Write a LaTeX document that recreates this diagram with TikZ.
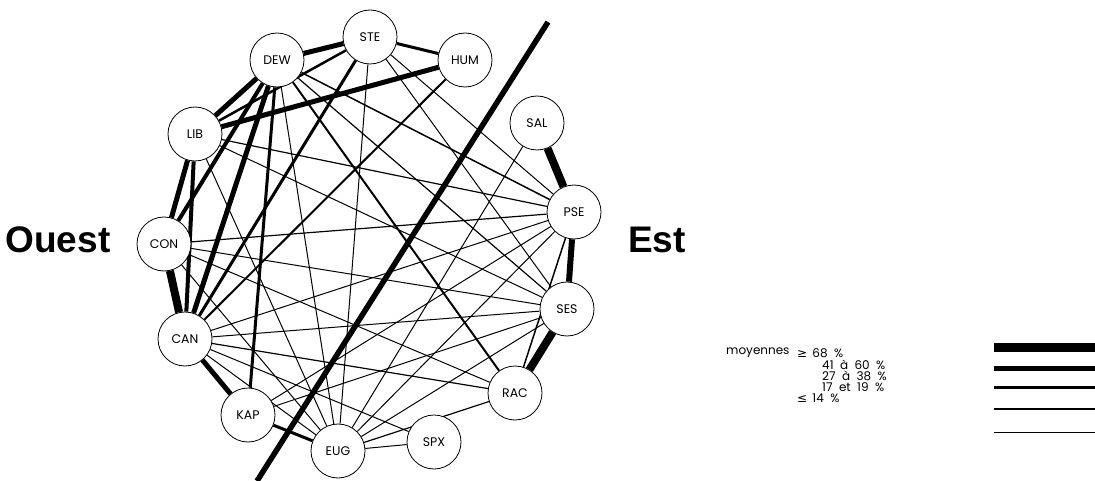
\documentclass[tikz,border=0pt]{standalone}
\usepackage{fontspec}
\setmainfont{Poppins}
\newfontfamily\boldsans{Liberation Sans}
\newfontfamily\symfont{DejaVu Sans}
\usetikzlibrary{backgrounds}
\tikzset{
  vnode/.style={circle,draw,line width=0.8pt,fill=white,minimum size=54pt,inner sep=0pt,font=\fontsize{12.5}{12.5}\selectfont},
  big/.style={font=\boldsans\bfseries\fontsize{37}{37}\selectfont},
  legtext/.style={anchor=west,inner sep=0pt,font=\fontsize{12}{11}\selectfont},
  wA/.style={line width=8pt},
  wB/.style={line width=5pt},
  wC/.style={line width=3pt},
  wD/.style={line width=2pt},
  wE/.style={line width=1pt},
}
\begin{document}
\begin{tikzpicture}[x=1pt,y=-1pt]
\useasboundingbox (0,0) rectangle (1095,481);
\node[vnode] (STE) at (370,37) {STE};
\node[vnode] (HUM) at (465,60) {HUM};
\node[vnode] (DEW) at (277,60) {DEW};
\node[vnode] (LIB) at (195,134) {LIB};
\node[vnode] (CON) at (164,244) {CON};
\node[vnode] (CAN) at (185,339) {CAN};
\node[vnode] (KAP) at (248,415) {KAP};
\node[vnode] (EUG) at (338,451) {EUG};
\node[vnode] (SPX) at (434,442) {SPX};
\node[vnode] (SAL) at (537,123) {SAL};
\node[vnode] (PSE) at (574,212) {PSE};
\node[vnode] (SES) at (567,309) {SES};
\node[vnode] (RAC) at (515,393) {RAC};
\begin{pgfonlayer}{background}
\fill[white] (0,0) rectangle (1095,481);
% outer ring and thick links
\draw[wB] (DEW) -- (STE);
\draw[wC] (STE) -- (HUM);
\draw[wB] (LIB) -- (HUM);
\draw[wB] (DEW) -- (LIB);
\draw[wB] (LIB) -- (CON);
\draw[line width=4pt] (LIB) -- (CAN);
\draw[line width=4pt] (DEW) -- (CON);
\draw[wB] (DEW) -- (CAN);
\draw[wA] (CON) -- (CAN);
\draw[wB] (CAN) -- (KAP);
\draw[wC] (KAP) -- (EUG);
\draw[wE] (EUG) -- (SPX);
\draw[wA] (SAL) -- (PSE);
\draw[line width=6pt] (PSE) -- (SES);
\draw[wA] (SES) -- (RAC);
\draw[wC] (DEW) -- (KAP);
\draw[wC] (STE) -- (CAN);
\draw[line width=2.5pt] (STE) -- (LIB);
\draw[wD] (HUM) -- (CAN);
\draw[wD] (DEW) -- (RAC);
% thin links
\draw[wE] (STE) -- (EUG);
\draw[wE] (STE) -- (SES);
\draw[wE] (STE) -- (PSE);
\draw[line width=1.5pt] (DEW) -- (PSE);
\draw[line width=1.2pt] (DEW) -- (SES);
\draw[wE] (DEW) -- (EUG);
\draw[line width=1.2pt] (LIB) -- (PSE);
\draw[wE] (LIB) -- (EUG);
\draw[wE] (LIB) -- (SES);
\draw[line width=1.2pt] (CON) -- (PSE);
\draw[wE] (CON) -- (SES);
\draw[wE] (CON) -- (RAC);
\draw[wE] (CON) -- (EUG);
\draw[wE] (CAN) -- (PSE);
\draw[wE] (CAN) -- (SES);
\draw[line width=1.2pt] (CAN) -- (RAC);
\draw[wE] (CAN) -- (EUG);
\draw[wE] (CAN) -- (SPX);
\draw[wE] (KAP) -- (PSE);
\draw[wE] (KAP) -- (SES);
\draw[wE] (SAL) -- (EUG);
\draw[wE] (EUG) -- (PSE);
\draw[wE] (EUG) -- (SES);
\draw[line width=1.2pt] (EUG) -- (RAC);
\draw[line width=1.5pt] (PSE) -- (RAC);
\end{pgfonlayer}
% dividing line
\coordinate (divA) at (548,22);
\coordinate (divB) at (257,481);
\draw[line width=5.5pt] (divA) -- (divB);
% side labels
\node[big] (ouest) at (58,240) {Ouest};
\node[big] (est) at (657,240) {Est};
% legend
\node[legtext] (moy) at (726,353) {moyennes};
\node[legtext] (l1) at (797,353) {{\symfont ≥}\, 68\ \ \%};
\node[legtext] (l2) at (822,365) {41\ \ à\ \ 60\ \ \%};
\node[legtext] (l3) at (822,376) {27\ \ à\ \ 38\ \ \%};
\node[legtext] (l4) at (822,387) {17\ \ et\ \ 19\ \ \%};
\node[legtext] (l5) at (797,398) {{\symfont ≤}\, 14\ \ \%};
\coordinate (a1) at (994,347); \coordinate (b1) at (1095,347);
\coordinate (a2) at (994,368); \coordinate (b2) at (1095,368);
\coordinate (a3) at (994,387); \coordinate (b3) at (1095,387);
\coordinate (a4) at (994,409); \coordinate (b4) at (1095,409);
\coordinate (a5) at (994,432); \coordinate (b5) at (1095,432);
\draw[line width=9pt] (a1) -- (b1);
\draw[line width=5pt] (a2) -- (b2);
\draw[line width=3pt] (a3) -- (b3);
\draw[line width=2pt] (a4) -- (b4);
\draw[line width=1pt] (a5) -- (b5);
\end{tikzpicture}
\end{document}
